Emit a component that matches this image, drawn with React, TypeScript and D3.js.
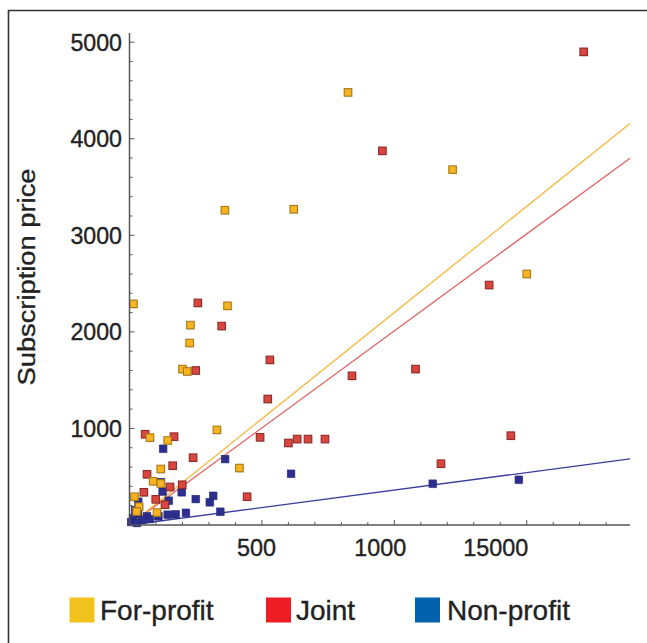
import React from "react";
import * as d3 from "d3";

// ---- Data ----
type Pt = [number, number];

const forProfit: Pt[] = [
  [825, 4480], [1220, 3680], [620, 3270], [360, 3260], [1500, 2600],
  [15, 2290], [370, 2270], [230, 2070], [227, 1885], [200, 1615],
  [218, 1590], [330, 985], [77, 905], [144, 875], [415, 590],
  [118, 580], [89, 453], [118, 430], [19, 293], [36, 190],
  [27, 140], [104, 129],
];

const joint: Pt[] = [
  [1715, 4900], [955, 3875], [1358, 2485], [258, 2300], [348, 2060],
  [250, 1600], [530, 1710], [522, 1305], [840, 1545], [1080, 1615],
  [1440, 925], [1176, 635], [493, 908], [600, 850], [633, 890],
  [674, 890], [738, 890], [59, 940], [168, 915], [240, 697],
  [163, 614], [66, 525], [153, 394], [199, 417], [54, 339],
  [99, 266], [134, 210], [444, 293],
];

const nonProfit: Pt[] = [
  [127, 790], [361, 683], [610, 531], [1145, 428], [1470, 469],
  [125, 347], [197, 339], [148, 252], [250, 269], [316, 303],
  [303, 235], [343, 138], [213, 127], [174, 111], [144, 107],
  [109, 90], [66, 90], [119, 445], [33, 241], [32, 114],
  [13, 72], [47, 52], [21, 155], [6, 31], [77, 62], [28, 21],
];

// regression slopes (price per unit x), lines through origin
const slopes = { forProfit: 2.2, joint: 2.01, nonProfit: 0.362 };

const xDomain: [number, number] = [0, 1890];
const yDomain: [number, number] = [0, 5095];
const xMajorTicks = [500, 1000, 1500];
const xTickLabels = ["500", "1000", "15000"];
const yMajorTicks = [1000, 2000, 3000, 4000, 5000];
const yTickLabels = ["1000", "2000", "3000", "4000", "5000"];

const legendItems = ["For-profit", "Joint", "Non-profit"];

// ---- Layout / style ----
const W = 647;
const H = 643;
const plot = { left: 129.5, right: 630, top: 33, bottom: 525 };
const xLabelDx = [-5.5, -14, -31];
const FONT = "'Liberation Sans', Arial, Helvetica, sans-serif";
const TEXT = "#222";

const styles = {
  forProfit: { fill: "#F9B41F", stroke: "#A97A18", line: "#F6B73A" },
  joint: { fill: "#D9463F", stroke: "#8F2A28", line: "#E06363" },
  nonProfit: { fill: "#2C2F8F", stroke: "#23267A", line: "#3B3D9C" },
};
const legendColors = ["#F1C21B", "#EE1C25", "#0061AD"];
const legendX = [69.5, 266, 415];
const legendTextX = [100, 296, 447];

export default function App() {
  const x = d3.scaleLinear().domain(xDomain).range([plot.left, plot.right]);
  const y = d3.scaleLinear().domain(yDomain).range([plot.bottom, plot.top]);

  const xMinor = d3.range(100, xDomain[1], 100);
  const yMinor = d3.range(200, yDomain[1], 200);

  const line = d3
    .line<Pt>()
    .x((d) => x(d[0]))
    .y((d) => y(d[1]));

  const s = 7.5;

  const series: { key: keyof typeof styles; data: Pt[] }[] = [
    { key: "nonProfit", data: nonProfit },
    { key: "joint", data: joint },
    { key: "forProfit", data: forProfit },
  ];

  const renderSquares = (key: keyof typeof styles, data: Pt[]) => (
    <g key={key}>
      {data.map((d, i) => (
        <g key={i}>
          <rect
            x={x(d[0]) - s / 2 + 1}
            y={y(d[1]) - s / 2 + 1}
            width={s}
            height={s}
            fill="#000"
            opacity={0.12}
          />
          <rect
            x={x(d[0]) - s / 2}
            y={y(d[1]) - s / 2}
            width={s}
            height={s}
            fill={styles[key].fill}
            stroke={styles[key].stroke}
            strokeWidth={key === "nonProfit" ? 0.6 : 1.1}
          />
        </g>
      ))}
    </g>
  );

  const textStroke = { stroke: TEXT, strokeWidth: 0.35 };

  return (
    <svg
      width={W}
      height={H}
      style={{ position: "absolute", left: 0, top: 0, background: "#fff" }}
      fontFamily={FONT}
    >
      <rect x={0} y={0} width={W} height={H} fill="#fff" />
      {/* frame */}
      <path d={`M8.5,${H + 2} L8.5,10.5 L${W + 2},10.5`} fill="none" stroke="#333" strokeWidth={1.6} />

      {/* y-axis title */}
      <text
        transform={`translate(35,277) rotate(-90)`}
        textAnchor="middle"
        fontSize={23.5}
        fill={TEXT}
        textLength={217}
        lengthAdjust="spacingAndGlyphs"
        {...textStroke}
      >
        Subscription price
      </text>

      {/* regression lines */}
      {(["nonProfit", "joint", "forProfit"] as const).map((k) => (
        <path
          key={k}
          d={line([
            [0, 0],
            [xDomain[1], slopes[k] * xDomain[1]],
          ]) || ""}
          fill="none"
          stroke={styles[k].line}
          strokeWidth={1.3}
        />
      ))}

      {/* points */}
      {series.map((sr) => renderSquares(sr.key, sr.data))}

      {/* axes */}
      <line x1={plot.left} x2={plot.left} y1={plot.top} y2={plot.bottom} stroke="#555" strokeWidth={1.5} />
      <line x1={plot.left} x2={plot.right} y1={plot.bottom} y2={plot.bottom} stroke="#555" strokeWidth={1.5} />

      {yMinor.map((v) => {
        const major = v % 1000 === 0;
        return (
          <line
            key={"ym" + v}
            x1={plot.left}
            x2={plot.left + (major ? 5 : 3)}
            y1={y(v)}
            y2={y(v)}
            stroke="#555"
            strokeWidth={1}
          />
        );
      })}
      {xMinor.map((v) => {
        const major = v % 500 === 0;
        return (
          <line
            key={"xm" + v}
            x1={x(v)}
            x2={x(v)}
            y1={plot.bottom}
            y2={plot.bottom - (major ? 5 : 3)}
            stroke="#555"
            strokeWidth={1}
          />
        );
      })}

      {yMajorTicks.map((v, i) => (
        <text
          key={"yl" + v}
          x={122}
          y={y(v)}
          dy="0.36em"
          textAnchor="end"
          fontSize={23.2}
          fill={TEXT}
          {...textStroke}
        >
          {yTickLabels[i]}
        </text>
      ))}
      {xMajorTicks.map((v, i) => (
        <text
          key={"xl" + v}
          x={x(v) + xLabelDx[i]}
          y={556}
          textAnchor="middle"
          fontSize={23.4}
          fill={TEXT}
          {...textStroke}
        >
          {xTickLabels[i]}
        </text>
      ))}

      {/* legend */}
      {legendItems.map((name, i) => (
        <g key={name}>
          <rect x={legendX[i]} y={597.5} width={25} height={25} fill={legendColors[i]} />
          <text x={legendTextX[i]} y={620} fontSize={28} fill={TEXT} {...textStroke}>
            {name}
          </text>
        </g>
      ))}
    </svg>
  );
}
